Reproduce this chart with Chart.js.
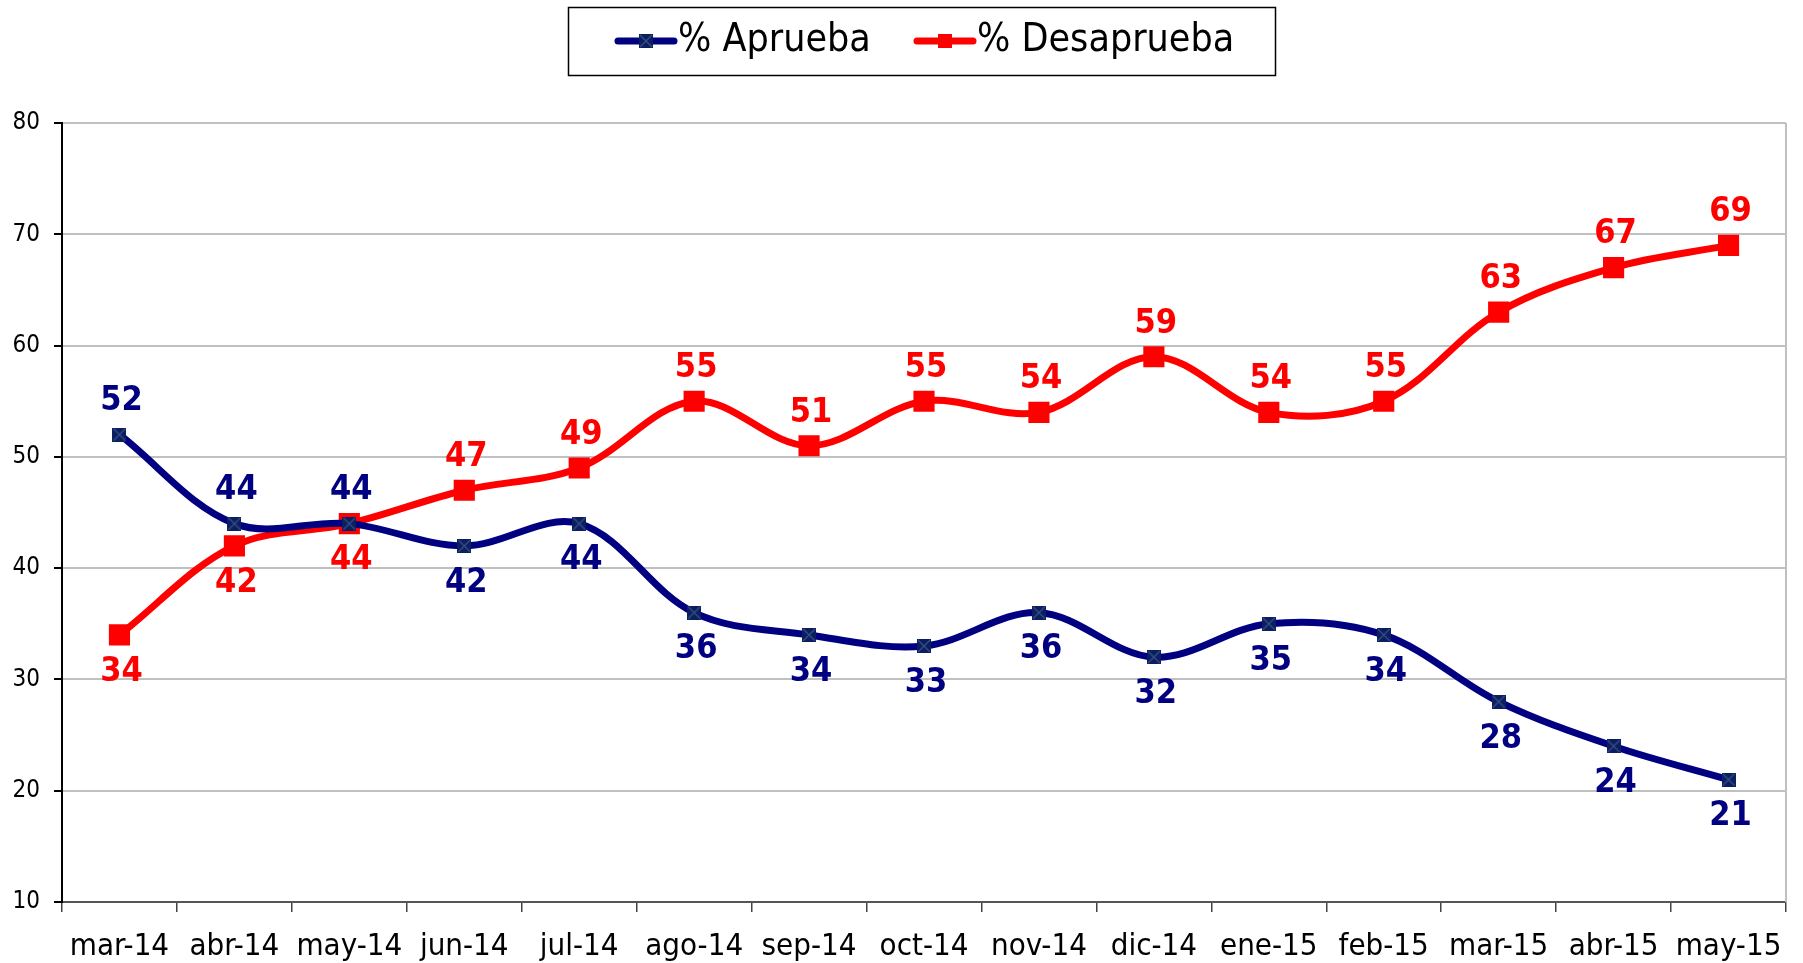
<!DOCTYPE html>
<html>
<head>
<meta charset="utf-8">
<script src="https://cdn.jsdelivr.net/npm/chart.js@4/dist/chart.umd.min.js"></script>
<style>
  html, body { margin: 0; padding: 0; background: #fff; }
  #wrap { width: 1803px; height: 963px; }
</style>
</head>
<body>
<div id="wrap"><canvas id="grafico" width="1803" height="963"></canvas></div>
<script>
const categorias = ['mar-14', 'abr-14', 'may-14', 'jun-14', 'jul-14', 'ago-14', 'sep-14', 'oct-14', 'nov-14', 'dic-14', 'ene-15', 'feb-15', 'mar-15', 'abr-15', 'may-15'];
const aprueba = [52, 44, 44, 42, 44, 36, 34, 33, 36, 32, 35, 34, 28, 24, 21];
const desaprueba = [34, 42, 44, 47, 49, 55, 51, 55, 54, 59, 54, 55, 63, 67, 69];
const series = ['% Aprueba', '% Desaprueba'];

const FUENTE = "'DejaVu Sans Condensed', 'DejaVu Sans', sans-serif";
const AZUL = '#000080';
const ROJO = '#ff0000';

// marcador cuadrado con aspa, como en la serie azul
function marcadorAzul() {
    const c = document.createElement('canvas');
    c.width = 14; c.height = 14;
    const g = c.getContext('2d');
    g.fillStyle = '#0a1f5c';
    g.fillRect(0, 0, 14, 14);
    g.strokeStyle = '#3a4f8f';
    g.lineWidth = 1.2;
    g.beginPath();
    g.moveTo(1, 1); g.lineTo(13, 13);
    g.moveTo(13, 1); g.lineTo(1, 13);
    g.stroke();
    return c;
}

const etiquetasPlugin = {
    id: 'etiquetas',
    afterDatasetsDraw(chart) {
        const ctx = chart.ctx;
        const ds = chart.data.datasets;
        ctx.save();
        ctx.font = 'bold 34px ' + FUENTE;
        ctx.textAlign = 'center';
        ctx.textBaseline = 'middle';
        ds.forEach((d, di) => {
            const otra = ds[1 - di].data;
            chart.getDatasetMeta(di).data.forEach((pt, i) => {
                const v = d.data[i];
                const arriba = di === 0 ? v >= otra[i] : v > otra[i];
                ctx.fillStyle = d.borderColor;
                ctx.fillText(String(v), pt.x + 2, pt.y + (arriba ? -33 : 37));
            });
        });
        ctx.restore();
    },
    afterDraw(chart) {
        const ctx = chart.ctx;
        const a = chart.chartArea;
        ctx.save();
        // borde derecho del área de trazado
        ctx.strokeStyle = '#c0c0c0';
        ctx.lineWidth = 2;
        ctx.beginPath();
        ctx.moveTo(a.right, a.top);
        ctx.lineTo(a.right, a.bottom);
        ctx.stroke();

        // leyenda
        ctx.strokeStyle = '#000';
        ctx.lineWidth = 1.5;
        ctx.strokeRect(568.5, 7.5, 707, 68);
        const yc = 41;
        const items = [
            { x: 618, color: AZUL, texto: series[0], azul: true },
            { x: 917, color: ROJO, texto: series[1], azul: false },
        ];
        items.forEach((it) => {
            ctx.strokeStyle = it.color;
            ctx.lineWidth = 7;
            ctx.lineCap = 'round';
            ctx.beginPath();
            ctx.moveTo(it.x, yc);
            ctx.lineTo(it.x + 56, yc);
            ctx.stroke();
            if (it.azul) {
                ctx.drawImage(marcadorAzul(), it.x + 28 - 7, yc - 7);
            } else {
                ctx.fillStyle = ROJO;
                ctx.fillRect(it.x + 28 - 7, yc - 7, 14, 14);
            }
            ctx.fillStyle = '#000';
            ctx.font = '39px ' + FUENTE;
            ctx.textAlign = 'left';
            ctx.textBaseline = 'middle';
            ctx.fillText(it.texto, it.x + 60, yc);
        });
        ctx.restore();
    },
};

new Chart(document.getElementById('grafico'), {
    type: 'line',
    data: {
        labels: categorias,
        datasets: [
            {
                label: series[0],
                data: aprueba,
                borderColor: AZUL,
                backgroundColor: AZUL,
                borderWidth: 7,
                tension: 0.35,
                pointStyle: marcadorAzul(),
                pointRadius: 7,
            },
            {
                label: series[1],
                data: desaprueba,
                borderColor: ROJO,
                backgroundColor: ROJO,
                borderWidth: 7,
                tension: 0.35,
                pointStyle: 'rect',
                pointRadius: 10,
            },
        ],
    },
    options: {
        responsive: false,
        animation: false,
        layout: { padding: { top: 123, right: 12, left: 0, bottom: 0 } },
        plugins: {
            legend: { display: false },
            tooltip: { enabled: false },
        },
        scales: {
            x: {
                type: 'category',
                offset: true,
                grid: {
                    offset: true,
                    drawOnChartArea: false,
                    drawTicks: true,
                    tickLength: 10,
                    tickColor: '#444',
                    lineWidth: 1.5,
                },
                border: { color: '#555', width: 2 },
                ticks: {
                    color: '#000',
                    font: { family: FUENTE, size: 31 },
                    padding: 16,
                    maxRotation: 0,
                    autoSkip: false,
                },
                afterFit(s) { s.height = 61; },
            },
            y: {
                min: 10,
                max: 80,
                ticks: {
                    stepSize: 10,
                    color: '#000',
                    font: { family: FUENTE, size: 24 },
                    padding: 14,
                },
                grid: {
                    color: '#c0c0c0',
                    lineWidth: 2,
                    tickColor: '#000',
                    tickLength: 8,
                },
                border: { color: '#000', width: 2 },
                afterFit(s) { s.width = 62; },
            },
        },
    },
    plugins: [etiquetasPlugin],
});
</script>
</body>
</html>
